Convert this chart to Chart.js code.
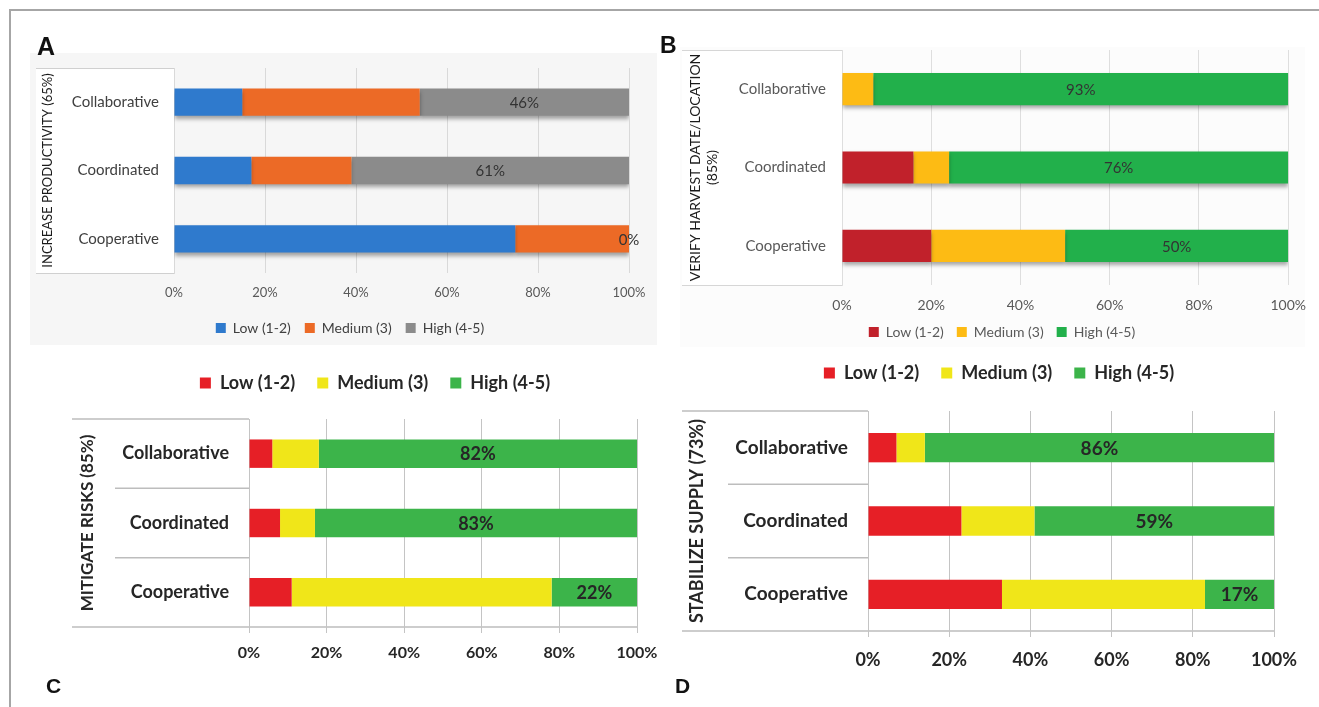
<!DOCTYPE html>
<html>
<head>
<meta charset="utf-8">
<script src="https://cdn.jsdelivr.net/npm/chart.js@4/dist/chart.umd.min.js"></script>
<style>
  html, body { margin: 0; padding: 0; background: #fff; }
  body { position: relative; width: 1319px; height: 707px; overflow: hidden; }
  canvas { position: absolute; left: 0; top: 0; }
  #frame { position: absolute; left: 9px; top: 9px; right: -4px; bottom: -4px;
           border-top: 2px solid #a6a6a6; border-left: 2px solid #a6a6a6; }
  .tag { position: absolute; font-family: "Liberation Sans", Arial, sans-serif;
         font-weight: bold; line-height: 1; color: #111; z-index: 5; }
</style>
</head>
<body>
<div id="frame"></div>
<canvas id="chartA" width="1319" height="707"></canvas>
<canvas id="chartB" width="1319" height="707"></canvas>
<canvas id="chartC" width="1319" height="707"></canvas>
<canvas id="chartD" width="1319" height="707"></canvas>
<div class="tag" style="left:37px;top:34px;font-size:25px">A</div>
<div class="tag" style="left:660px;top:34px;font-size:23px">B</div>
<div class="tag" style="left:46px;top:675px;font-size:21px">C</div>
<div class="tag" style="left:675px;top:675px;font-size:21px">D</div>
<script>
// shared categories / series / ticks
var categories = ['Collaborative', 'Coordinated', 'Cooperative'];
var seriesNames = ['Low (1-2)', 'Medium (3)', 'High (4-5)'];
var tickValues = [0, 20, 40, 60, 80, 100];

// A - increase productivity (65%)
var prodLow = [15, 17, 75];
var prodMedium = [39, 22, 25];
var prodHigh = [46, 61, 0];

// B - verify harvest date/location (85%)
var harvestLow = [0, 16, 20];
var harvestMedium = [7, 8, 30];
var harvestHigh = [93, 76, 50];

// C - mitigate risks (85%)
var risksLow = [6, 8, 11];
var risksMedium = [12, 9, 67];
var risksHigh = [82, 83, 22];

// D - stabilize supply (73%)
var supplyLow = [7, 23, 33];
var supplyMedium = [7, 18, 50];
var supplyHigh = [86, 59, 17];

var FONT = 'Lato, "Open Sans", sans-serif';

// background boxes, separator rules and bar shadows
var panelDeco = {
  id: 'panelDeco',
  beforeDraw: function (chart, args, o) {
    var ctx = chart.ctx, a = chart.chartArea, y = chart.scales.y;
    ctx.save();
    if (o.bg) {
      ctx.fillStyle = o.bg.color;
      ctx.fillRect(o.bg.x, o.bg.y, o.bg.w, o.bg.h);
    }
    if (o.box) {
      ctx.fillStyle = '#fff';
      ctx.fillRect(o.box.left, a.top, a.left - o.box.left, a.bottom - a.top);
      ctx.strokeStyle = o.box.stroke;
      ctx.lineWidth = 1;
      ctx.beginPath();
      ctx.moveTo(o.box.left, a.top + 0.5);
      ctx.lineTo(a.left + 0.5, a.top + 0.5);
      ctx.lineTo(a.left + 0.5, a.bottom + 0.5);
      ctx.lineTo(o.box.left, a.bottom + 0.5);
      ctx.stroke();
    }
    if (o.rules) {
      ctx.strokeStyle = o.rules.color;
      ctx.lineWidth = 1.5;
      var line = function (x0, x1, yy) {
        ctx.beginPath(); ctx.moveTo(x0, yy); ctx.lineTo(x1, yy); ctx.stroke();
      };
      line(o.rules.outer, a.left, a.top);
      for (var i = 0; i < y.ticks.length - 1; i++) {
        line(o.rules.inner, a.left, (y.getPixelForTick(i) + y.getPixelForTick(i + 1)) / 2);
      }
      line(o.rules.outer, a.right, a.bottom);
    }
    ctx.restore();
  },
  beforeDatasetsDraw: function (chart, args, o) {
    if (!o.shadow) return;
    var ctx = chart.ctx;
    ctx.save();
    ctx.shadowColor = 'rgba(0,0,0,0.35)';
    ctx.shadowBlur = 4;
    ctx.shadowOffsetY = 3;
  },
  afterDatasetsDraw: function (chart, args, o) {
    if (o.shadow) chart.ctx.restore();
  }
};

// percentage written in the middle of the High segment
var highLabels = {
  id: 'highLabels',
  afterDatasetsDraw: function (chart, args, o) {
    var ctx = chart.ctx;
    var meta = chart.getDatasetMeta(2);
    var vals = chart.data.datasets[2].data;
    ctx.save();
    ctx.font = o.font;
    ctx.fillStyle = o.color;
    ctx.textAlign = 'center';
    ctx.textBaseline = 'middle';
    meta.data.forEach(function (bar, i) {
      ctx.fillText(vals[i] + '%', (bar.x + bar.base) / 2, bar.y + 1);
    });
    ctx.restore();
  }
};

function buildPanel(id, p) {
  var scales = {
    x: {
      type: 'linear', position: 'bottom', stacked: true, min: 0, max: 100,
      afterBuildTicks: function (s) { s.ticks = tickValues.map(function (v) { return { value: v }; }); },
      grid: { color: p.gridColor, lineWidth: 1, drawTicks: p.tickLen > 0, tickLength: p.tickLen },
      border: { display: false },
      ticks: { font: p.xFont, color: p.xColor, padding: p.xPad, maxRotation: 0, autoSkip: false,
               callback: function (v) { return v + '%'; } },
      afterFit: function (s) { s.height = p.xH; }
    }
  };
  if (p.topGap) {
    scales.xTop = {
      type: 'linear', position: 'top', display: true, min: 0, max: 100,
      grid: { display: false, drawTicks: false }, border: { display: false },
      ticks: { display: false },
      afterFit: function (s) { s.height = p.topGap; }
    };
  }
  scales.y = {
    type: 'category', stacked: true,
    grid: { display: false, drawTicks: false }, border: { display: false },
    ticks: { font: p.yFont, color: p.yColor, padding: p.yPad },
    title: { display: true, text: p.title, font: p.titleFont, color: p.titleColor,
             padding: { top: p.titlePad, bottom: 0 } },
    afterFit: function (s) { s.width = p.yW; }
  };

  return new Chart(document.getElementById(id), {
    type: 'bar',
    data: {
      labels: categories,
      datasets: p.values.map(function (vals, i) {
        return { label: seriesNames[i], data: vals, backgroundColor: p.colors[i], borderWidth: 0,
                 xAxisID: 'x', categoryPercentage: 1, barPercentage: p.barPct };
      })
    },
    options: {
      indexAxis: 'y',
      responsive: false,
      animation: false,
      devicePixelRatio: 1,
      events: [],
      layout: { padding: p.pad },
      plugins: {
        tooltip: { enabled: false },
        legend: {
          position: p.legendPos,
          labels: { font: p.legendFont, color: p.legendColor, boxWidth: p.box, boxHeight: p.box,
                    padding: p.legendPad }
        },
        panelDeco: p.deco,
        highLabels: p.valueLabel
      },
      scales: scales
    },
    plugins: [panelDeco, highLabels]
  });
}

buildPanel('chartA', {
  values: [prodLow, prodMedium, prodHigh],
  colors: ['#2f7acd', '#ec6a26', '#8b8b8b'],
  barPct: 0.40,
  pad: { left: 71, right: 690, top: 68, bottom: 362 },
  yW: 103, xH: 34, xPad: 12, tickLen: 0, yPad: 15,
  gridColor: '#d9d9d9',
  xFont: { family: FONT, size: 13 }, xColor: '#595959',
  yFont: { family: FONT, size: 15 }, yColor: '#404040',
  title: 'INCREASE PRODUCTIVITY (65%)', titleFont: { family: FONT, size: 13 }, titleColor: '#1a1a1a',
  titlePad: -30.8,
  legendPos: 'bottom', legendFont: { family: FONT, size: 14 }, legendColor: '#404040', box: 10, legendPad: 14,
  deco: { bg: { x: 30, y: 53, w: 627, h: 292, color: '#f6f6f6' }, box: { left: 36, stroke: '#d0d0d0' }, shadow: true },
  valueLabel: { font: '15px ' + FONT, color: '#333' }
});

buildPanel('chartB', {
  values: [harvestLow, harvestMedium, harvestHigh],
  colors: ['#c1212b', '#fdbb14', '#22b04b'],
  barPct: 0.41,
  pad: { left: 715, right: 30, top: 50, bottom: 358 },
  yW: 127, xH: 27, xPad: 13, tickLen: 0, yPad: 16,
  gridColor: '#dedede',
  xFont: { family: FONT, size: 14, lineHeight: 1 }, xColor: '#595959',
  yFont: { family: FONT, size: 15 }, yColor: '#595959',
  title: ['VERIFY HARVEST DATE/LOCATION', '(85%)'],
  titleFont: { family: FONT, size: 14, lineHeight: 1.25 }, titleColor: '#1a1a1a',
  titlePad: -28.75,
  legendPos: 'bottom', legendFont: { family: FONT, size: 14 }, legendColor: '#595959', box: 10, legendPad: 13,
  deco: { bg: { x: 680, y: 47, w: 625, h: 300, color: '#fcfcfc' }, box: { left: 682, stroke: '#d6d6d6' }, shadow: true },
  valueLabel: { font: '15px ' + FONT, color: '#333' }
});

buildPanel('chartC', {
  values: [risksLow, risksMedium, risksHigh],
  colors: ['#e61f26', '#f0e619', '#3cb44a'],
  barPct: 0.41,
  pad: { left: 113, right: 682, top: 352, bottom: 40 },
  yW: 136, xH: 40, xPad: 10, tickLen: 6, yPad: 20, topGap: 17,
  gridColor: '#c4c4c4',
  xFont: { family: FONT, size: 16, weight: 'bold' }, xColor: '#262626',
  yFont: { family: FONT, size: 18, weight: 'bold' }, yColor: '#262626',
  title: 'MITIGATE RISKS (85%)', titleFont: { family: FONT, size: 17, weight: 'bold' }, titleColor: '#262626',
  titlePad: -35.2,
  legendPos: 'top', legendFont: { family: FONT, size: 18, weight: 'bold' }, legendColor: '#262626', box: 11, legendPad: 22,
  deco: { rules: { outer: 72, inner: 115, color: '#bdbdbd' } },
  valueLabel: { font: 'bold 18px ' + FONT, color: '#262626' }
});

buildPanel('chartD', {
  values: [supplyLow, supplyMedium, supplyHigh],
  colors: ['#e61f26', '#f0e619', '#3cb44a'],
  barPct: 0.40,
  pad: { left: 724, right: 45, top: 342, bottom: 34 },
  yW: 144, xH: 42, xPad: 12, tickLen: 6, yPad: 20, topGap: 19,
  gridColor: '#c4c4c4',
  xFont: { family: FONT, size: 18, weight: 'bold' }, xColor: '#262626',
  yFont: { family: FONT, size: 19, weight: 'bold' }, yColor: '#262626',
  title: 'STABILIZE SUPPLY (73%)', titleFont: { family: FONT, size: 18, weight: 'bold' }, titleColor: '#262626',
  titlePad: -37.8,
  legendPos: 'top', legendFont: { family: FONT, size: 18, weight: 'bold' }, legendColor: '#262626', box: 11, legendPad: 22,
  deco: { rules: { outer: 682, inner: 728, color: '#bdbdbd' } },
  valueLabel: { font: 'bold 19px ' + FONT, color: '#262626' }
});
</script>
</body>
</html>
